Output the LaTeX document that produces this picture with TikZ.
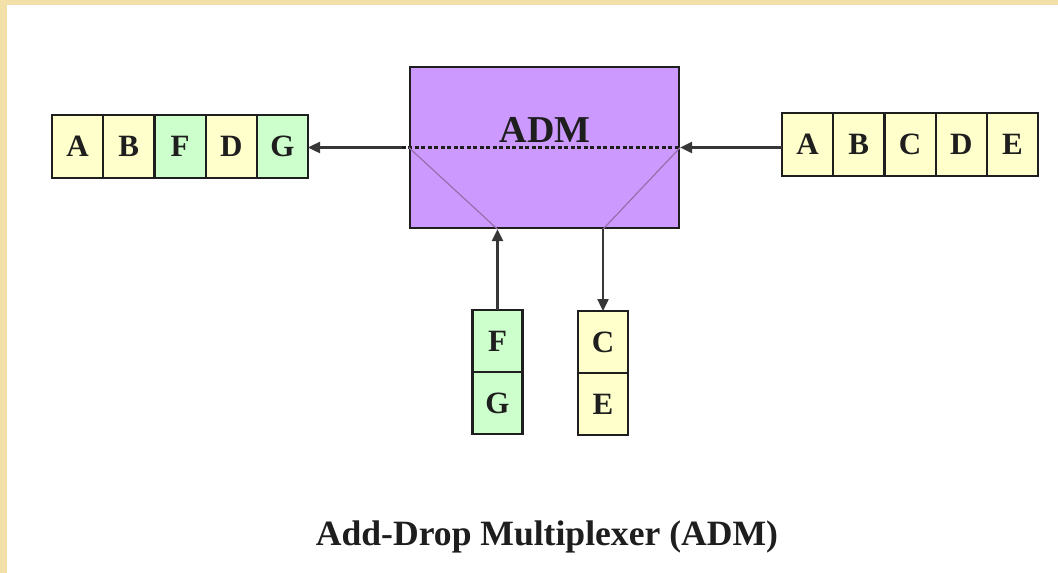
\documentclass[tikz,border=0pt]{standalone}
\usepackage{fontspec}
\setmainfont{Liberation Serif}
\usetikzlibrary{
    arrows.meta,
    positioning
}
\definecolor{ink}{RGB}{30,30,30}
\definecolor{wire}{RGB}{55,55,55}
\definecolor{slotold}{RGB}{255,255,204}
\definecolor{slotnew}{RGB}{204,255,204}
\definecolor{admfill}{RGB}{204,153,255}
\definecolor{tapline}{RGB}{150,110,170}
\definecolor{frame}{RGB}{243,224,168}
\tikzset{
    slot/.style={
        rectangle,
        draw=ink,
        line width=2.2pt,
        minimum width=51.2pt,
        minimum height=63pt,
        inner sep=0pt,
        outer sep=0pt,
        font=\fontsize{31}{33}\selectfont\bfseries,
        text=ink
    },
    passslot/.style={slot, fill=slotold},
    addslot/.style={slot, fill=slotnew},
    stackslot/.style={minimum width=50pt, minimum height=62pt},
    admbox/.style={
        rectangle,
        draw=ink,
        line width=2.4pt,
        fill=admfill,
        minimum width=269pt,
        minimum height=161pt,
        inner sep=0pt
    },
    flow/.style={
        -{Triangle[length=12pt,width=11pt]},
        draw=wire,
        line width=2.4pt
    },
    through/.style={
        draw=ink,
        line width=2.2pt,
        dash pattern=on 4pt off 2.5pt
    },
    tap/.style={
        draw=tapline,
        line width=1.2pt
    },
    caption/.style={
        font=\fontsize{35.6}{38}\selectfont\bfseries,
        text=ink,
        anchor=base
    }
}

\begin{document}
\begin{tikzpicture}[x=1pt, y=-1pt, node distance=0pt]

\useasboundingbox (0,0) rectangle (1058,573);

% --- Slide frame ---
\fill[frame] (0,0) rectangle (1058,5);
\fill[frame] (0,0) rectangle (7,573);

% --- Multiplexer ---
\node[admbox] (adm) at (544.5,147.5) {};
\node[font=\fontsize{38}{40}\selectfont\bfseries, text=ink] (admtitle)
    at (545,129.5) {ADM};

% --- Outgoing frame (left) ---
\node[passslot] (outA) at (77.6,146.5) {A};
\node[passslot, right=of outA] (outB) {B};
\node[addslot, right=of outB] (outF) {F};
\node[passslot, right=of outF] (outD) {D};
\node[addslot, right=of outD] (outG) {G};

% --- Incoming frame (right) ---
\node[passslot] (inA) at (807.6,144.5) {A};
\node[passslot, right=of inA] (inB) {B};
\node[passslot, right=of inB] (inC) {C};
\node[passslot, right=of inC] (inD) {D};
\node[passslot, right=of inD] (inE) {E};

% --- Added and dropped channels ---
\node[addslot, stackslot] (addF) at (497.5,341) {F};
\node[addslot, stackslot, below=of addF] (addG) {G};
\node[passslot, stackslot] (dropC) at (603,342) {C};
\node[passslot, stackslot, below=of dropC] (dropE) {E};

% --- Signal paths inside ADM ---
\draw[through] ([xshift=-7pt]adm.west) -- (adm.east);
\draw[tap] (adm.west) -- (adm.south -| addF.north);
\draw[tap] (adm.east) -- (adm.south -| dropC.north);

% --- Connectors ---
\draw[flow] (inA.west |- adm.east) -- (adm.east);
\draw[flow] ([xshift=-7pt]adm.west) -- (outG.east |- adm.west);
\draw[flow] (addF.north) -- (adm.south -| addF.north);
\draw[flow] (adm.south -| dropC.north) -- (dropC.north);

\node[caption] (title) at (547,545) {Add-Drop Multiplexer (ADM)};

\end{tikzpicture}
\end{document}
